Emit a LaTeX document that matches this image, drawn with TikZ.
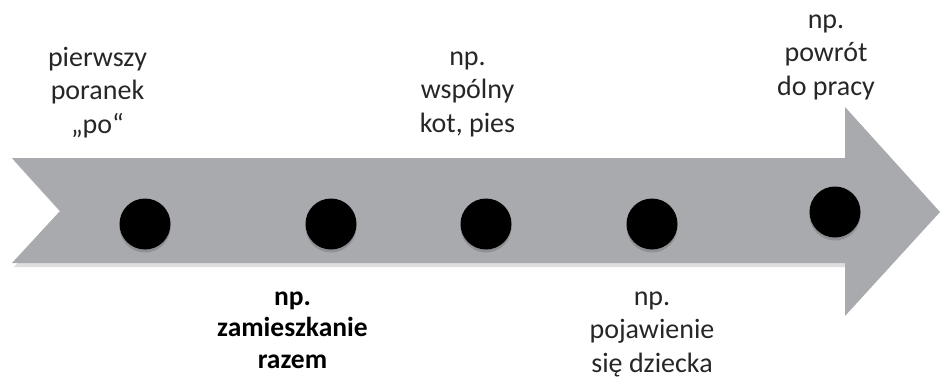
\documentclass[tikz,border=0pt]{standalone}
\usepackage{fontspec}
\setmainfont{Carlito}
\definecolor{bandgray}{RGB}{169,170,174}
\definecolor{shadowgray}{RGB}{222,222,224}
\begin{document}
\begin{tikzpicture}[x=1pt,y=-1pt,
  dot/.style={circle,fill=black,inner sep=0pt,minimum size=51pt},
  dotshadow/.style={circle,fill=black,opacity=0.15,inner sep=0pt,minimum size=51pt},
  lbl/.style={align=center,inner sep=0pt,font=\fontsize{28}{33.5}\selectfont,text=black!85},
  lblb/.style={align=center,inner sep=0pt,font=\fontsize{27.5}{31.5}\selectfont\bfseries,text=black}]
\useasboundingbox (0,0) rectangle (941,380);
% band shadow
\fill[shadowgray] (14,161) -- (845,161) -- (845,267) -- (14,267) -- (62,214) -- cycle;
% arrow band
\fill[bandgray] (12,158) -- (845,158) -- (845,107) -- (940,212) -- (845,316) -- (845,263) -- (12,263) -- (60,211) -- cycle;
% dots with faint shadows
\foreach \x/\y in {145/224,331/224,486/224,652/224,835/212}{
  \node[dotshadow] at (\x,\y+3) {};
}
\node[dot] (d1) at (145,224) {};
\node[dot] (d2) at (331,224) {};
\node[dot] (d3) at (486,224) {};
\node[dot] (d4) at (652,224) {};
\node[dot] (d5) at (835,212) {};
% labels (anchor=base is the baseline of the last line)
\node[lbl,anchor=base] (t1) at (97.5,133) {pierwszy\\poranek\\„po“};
\node[lbl,anchor=base] (t3) at (467.5,132) {np.\\wspólny\\kot, pies};
\node[lbl,anchor=base] (t5) at (826,95) {np.\\powrót\\do pracy};
\node[lblb,anchor=base] (t2) at (292.5,368) {np.\\zamieszkanie\\razem};
\node[lbl,anchor=base] (t4) at (652,372) {np.\\pojawienie\\się dziecka};
\end{tikzpicture}
\end{document}
